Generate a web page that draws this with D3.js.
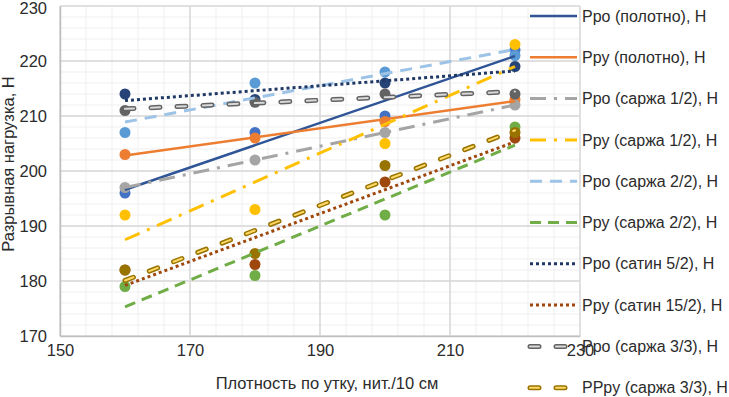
<!DOCTYPE html>
<html>
<head>
<meta charset="utf-8">
<script src="https://cdn.jsdelivr.net/npm/d3@7"></script>
<style>
  html, body { margin: 0; padding: 0; background: #fff; }
  svg { display: block; font-family: "Liberation Sans", Arial, sans-serif; }
</style>
</head>
<body>
<svg id="chart" width="729" height="397"></svg>
<script>
// ---- data ----
const xValues = [160, 180, 200, 220];
const seriesNames = [
  "Ppo (полотно), Н",
  "Ppy (полотно), Н",
  "Ppo (саржа 1/2), Н",
  "Ppy (саржа 1/2), Н",
  "Ppo (саржа 2/2), Н",
  "Ppy (саржа 2/2), Н",
  "Ppo (сатин 5/2), Н",
  "Ppy (сатин 15/2), Н",
  "Ppo (саржа 3/3), Н",
  "PPpy (саржа 3/3), Н"
];
const proPolotno   = [196, 207, 210, 222];
const pruPolotno   = [203, 206, 209, 213];
const proSarzha12  = [197, 202, 207, 212];
const pruSarzha12  = [192, 193, 205, 223];
const proSarzha22  = [207, 216, 218, 221];
const pruSarzha22  = [179, 181, 192, 208];
const proSatin52   = [214, 213, 216, 219];
const pruSatin152  = [182, 183, 198, 206];
const proSarzha33  = [211, 212.5, 214, 214];
const pruSarzha33  = [182, 185, 201, 207];
const xTicks = [150, 170, 190, 210, 230];
const yTicks = [170, 180, 190, 200, 210, 220, 230];
const xTitle = "Плотность по утку, нит./10 см";
const yTitle = "Разрывная нагрузка, Н";

const allValues = [proPolotno, pruPolotno, proSarzha12, pruSarzha12, proSarzha22,
                   pruSarzha22, proSatin52, pruSatin152, proSarzha33, pruSarzha33];

// ---- styles ----
const markerColors = ["#4472C4","#ED7D31","#A5A5A5","#FFC000","#5B9BD5","#70AD47","#264478","#9E480E","#636363","#997300"];
const lineStyles = [
  {c:"#2F5597", w:2.5, d:null},
  {c:"#ED7D31", w:2.5, d:null},
  {c:"#A5A5A5", w:3, d:"16,8,3,8"},
  {c:"#FFC000", w:3, d:"16,8,3,8"},
  {c:"#9DC3E6", w:3, d:"12,8"},
  {c:"#70AD47", w:3, d:"11,7"},
  {c:"#1F3864", w:3, d:"3,3"},
  {c:"#9E480E", w:3, d:"3,3"},
  {c:"#636363", w:5, d:"9,17", cap:"round", inner:"#D9D9D9"},
  {c:"#997300", w:5, d:"9,17", cap:"round", inner:"#FFD966"}
];
const textColor = "#2b2b2b";
const fontSize = 16.5;
const legendFontSize = 16;

const svg = d3.select("#chart");
const L = 60, T = 6, W = 520, H = 330;
const x = d3.scaleLinear().domain([150, 230]).range([L, L + W]);
const y = d3.scaleLinear().domain([170, 230]).range([T + H, T]);

// minor gridlines
const g = svg.append("g");
g.selectAll(".hmin").data(d3.range(170, 230.1, 2)).enter().append("line")
  .attr("x1", L).attr("x2", L + W).attr("y1", d => y(d)).attr("y2", d => y(d))
  .attr("stroke", "#EFEFEF").attr("stroke-width", 1);
g.selectAll(".vmin").data(d3.range(150, 230.1, 4)).enter().append("line")
  .attr("y1", T).attr("y2", T + H).attr("x1", d => x(d)).attr("x2", d => x(d))
  .attr("stroke", "#EFEFEF").attr("stroke-width", 1);
// major gridlines
g.selectAll(".hmaj").data(yTicks).enter().append("line")
  .attr("x1", L).attr("x2", L + W).attr("y1", d => y(d)).attr("y2", d => y(d))
  .attr("stroke", "#D9D9D9").attr("stroke-width", 1.5);
g.selectAll(".vmaj").data(xTicks).enter().append("line")
  .attr("y1", T).attr("y2", T + H).attr("x1", d => x(d)).attr("x2", d => x(d))
  .attr("stroke", "#D9D9D9").attr("stroke-width", 1.5);

// axes
const yAxis = svg.append("g").attr("transform", `translate(${L},0)`)
  .call(d3.axisLeft(y).tickValues(yTicks).tickSize(0).tickPadding(13));
const xAxis = svg.append("g").attr("transform", `translate(0,${T + H})`)
  .call(d3.axisBottom(x).tickValues(xTicks).tickSize(0).tickPadding(8));
[xAxis, yAxis].forEach(a => {
  a.select(".domain").attr("stroke", "#BFBFBF").attr("stroke-width", 1.5);
  a.selectAll("text").attr("font-size", fontSize).attr("fill", textColor)
    .attr("font-family", "'Liberation Sans', Arial, sans-serif");
});
yAxis.selectAll("text").filter(d => d === 230).attr("dy", "0.45em");

// markers
allValues.forEach((vals, i) => {
  svg.append("g").selectAll("circle").data(vals).enter().append("circle")
    .attr("cx", (d, j) => x(xValues[j])).attr("cy", d => y(d)).attr("r", 5.5)
    .attr("fill", markerColors[i]);
});

// linear trendlines (least squares from the data)
function fit(vals) {
  const mx = d3.mean(xValues), my = d3.mean(vals);
  let num = 0, den = 0;
  xValues.forEach((xv, j) => { num += (xv - mx) * (vals[j] - my); den += (xv - mx) ** 2; });
  const b = num / den, a = my - b * mx;
  const x0 = d3.min(xValues), x1 = d3.max(xValues);
  return [[x0, a + b * x0], [x1, a + b * x1]];
}
function drawStyled(sel, pts, st) {
  const p = sel.append("line")
    .attr("x1", pts[0][0]).attr("y1", pts[0][1]).attr("x2", pts[1][0]).attr("y2", pts[1][1])
    .attr("stroke", st.c).attr("stroke-width", st.w)
    .attr("stroke-linecap", st.cap || "butt");
  if (st.d) p.attr("stroke-dasharray", st.d);
  if (st.inner) {
    sel.append("line")
      .attr("x1", pts[0][0]).attr("y1", pts[0][1]).attr("x2", pts[1][0]).attr("y2", pts[1][1])
      .attr("stroke", st.inner).attr("stroke-width", 2)
      .attr("stroke-linecap", "round").attr("stroke-dasharray", st.d);
  }
}
allValues.forEach((vals, i) => {
  const f = fit(vals);
  const pts = f.map(p => [x(p[0]), y(p[1])]);
  drawStyled(svg.append("g"), pts, lineStyles[i]);
});

// legend
const leg = svg.append("g");
seriesNames.forEach((name, i) => {
  const cy = 16 + i * 41.3;
  const s = lineStyles[i];
  const lg = leg.append("g");
  drawStyled(lg, [[530, cy], [577, cy]], s);
  lg.append("text").attr("x", 582).attr("y", cy).attr("dy", "0.35em")
    .attr("font-size", legendFontSize).attr("fill", textColor).text(name);
});

// axis titles
svg.append("text").attr("x", 327).attr("y", 389).attr("text-anchor", "middle")
  .attr("font-size", fontSize).attr("fill", textColor).text(xTitle);
svg.append("text").attr("transform", "translate(14,164) rotate(-90)")
  .attr("text-anchor", "middle").attr("font-size", fontSize).attr("fill", textColor).text(yTitle);
</script>
</body>
</html>
